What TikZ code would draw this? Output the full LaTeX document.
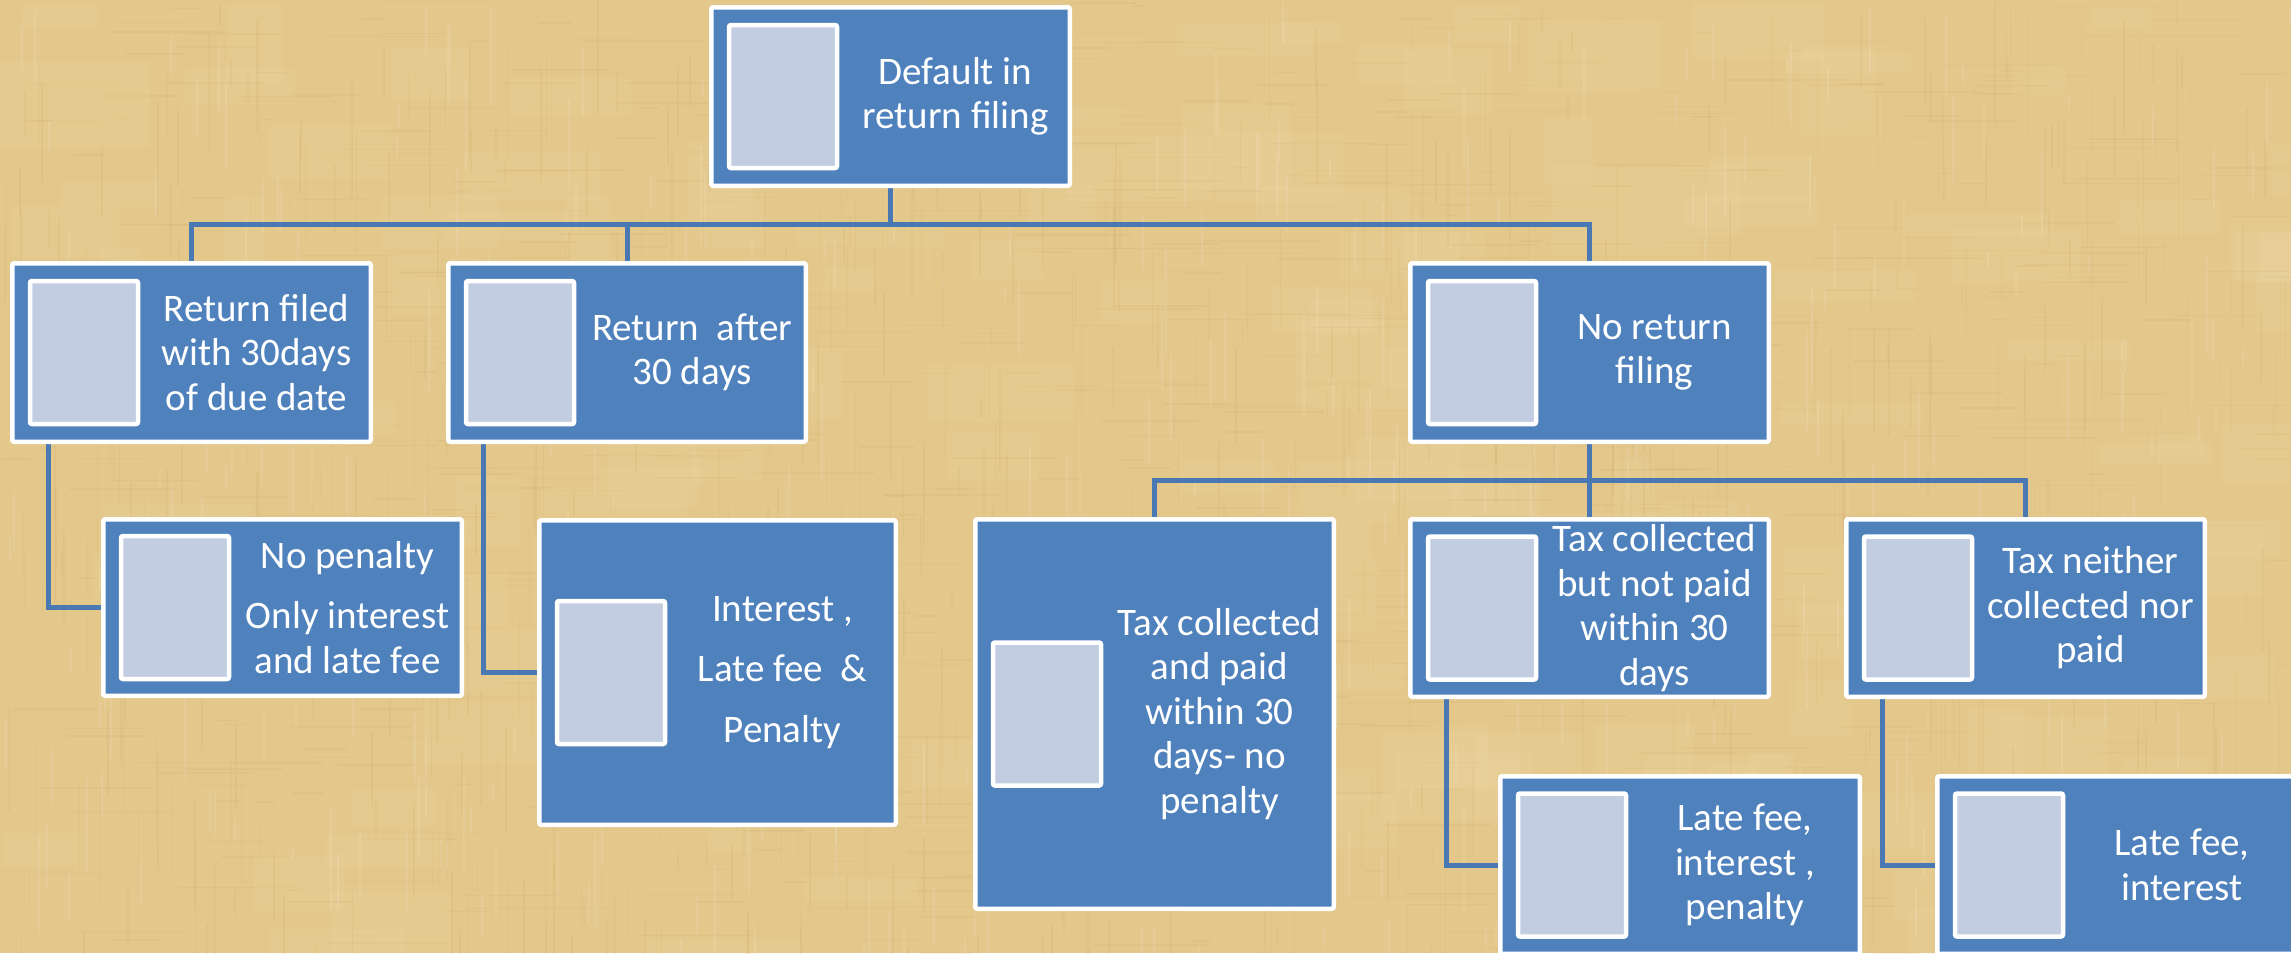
\documentclass[tikz,border=0pt]{standalone}
\usepackage{fontspec}
\setmainfont{Carlito}

\definecolor{paper}{HTML}{E3C78B}
\definecolor{paperlight}{HTML}{F2DFAE}
\definecolor{paperdark}{HTML}{C9A865}
\definecolor{boxblue}{HTML}{4F81BD}
\definecolor{linkblue}{HTML}{4A78B2}
\definecolor{picfill}{HTML}{C2CDE1}

\pgfdeclarelayer{paperlayer}
\pgfdeclarelayer{linklayer}
\pgfsetlayers{paperlayer,linklayer,main}

\tikzset{
  card/.style={draw=white, line width=4.5pt, fill=boxblue, rounded corners=2pt,
               inner sep=0pt},
  slot/.style={draw=white, line width=4.5pt, fill=picfill, rounded corners=2pt,
               minimum width=108pt, minimum height=143pt, inner sep=0pt},
  caption/.style={text=white, align=center, inner sep=0pt,
                  font=\fontsize{39}{44.5}\selectfont},
  link/.style={draw=linkblue, line width=5pt},
}

% \card{name}{left}{top}{right}{bottom}{text}: blue box with a picture slot and its text
\newcommand\card[6]{%
  \node[card, minimum width={#4-#2-4.5}, minimum height={#5-#3-4.5}]
    (#1) at ({(#2+#4)/2},{(#3+#5)/2}) {};
  \node[slot] (#1-pic) at ({#2+74},{(#3+#5)/2}) {};
  \node[caption] (#1-txt) at ({(#2+130+#4)/2},{(#3+#5)/2}) {#6};
}

\begin{document}
\begin{tikzpicture}[x=1pt, y=-1pt]
  \clip (0,0) rectangle (2291,953);
  % papyrus background: base tone, soft light patches, fine fibres
  \begin{pgfonlayer}{paperlayer}
  \fill[paper] (0,0) rectangle (2291,953);
  \pgfmathsetseed{11}
  \foreach \i in {1,...,160} {
    \pgfmathsetmacro\xx{rnd*2291}
    \pgfmathsetmacro\yy{rnd*953}
    \pgfmathsetmacro\ww{40+rnd*120}
    \pgfmathsetmacro\hh{20+rnd*70}
    \fill[paperlight, opacity=0.14] (\xx,\yy) rectangle ++(\ww,\hh);
  }
  \foreach \i in {1,...,700} {
    \pgfmathsetmacro\xx{rnd*2291}
    \pgfmathsetmacro\yy{rnd*953}
    \pgfmathsetmacro\ll{15+rnd*110}
    \fill[paperdark, opacity=0.15] (\xx,\yy) rectangle ++(1.5,\ll);
  }
  \foreach \i in {1,...,700} {
    \pgfmathsetmacro\xx{rnd*2291}
    \pgfmathsetmacro\yy{rnd*953}
    \pgfmathsetmacro\ll{15+rnd*110}
    \fill[paperdark, opacity=0.13] (\xx,\yy) rectangle ++(\ll,1.5);
  }
  \foreach \i in {1,...,400} {
    \pgfmathsetmacro\xx{rnd*2291}
    \pgfmathsetmacro\yy{rnd*953}
    \pgfmathsetmacro\ll{15+rnd*90}
    \fill[white, opacity=0.10] (\xx,\yy) rectangle ++(2,\ll);
  }
  \end{pgfonlayer}

  % boxes
  \card{top}{709}{5}{1072}{188}{Default in\\return filing}
  \card{A}{10}{261}{373}{444}{Return filed\\with 30days\\of due date}
  \card{B}{446}{261}{808}{444}{Return\ \ after\\30 days}
  \card{C}{1408}{261}{1771}{444}{No return\\filing}
  \card{A1}{101}{517}{464}{698}{No penalty\\[16pt]Only interest\\and late fee}
  \card{B1}{537}{518}{898}{827}{Interest ,\\[16pt]Late fee\ \ \&\\[16pt]Penalty}
  \card{C1}{973}{517}{1336}{911}{Tax collected\\and paid\\within 30\\days- no\\penalty}
  \card{C2}{1408}{517}{1771}{699}{Tax collected\\but not paid\\within 30\\days}
  \card{C3}{1844}{517}{2207}{699}{Tax neither\\collected nor\\paid}
  \card{C2a}{1498}{774}{1862}{956}{Late fee,\\interest ,\\penalty}
  \card{C3a}{1935}{774}{2299}{956}{Late fee,\\interest}

  % connectors, drawn beneath the boxes
  \begin{pgfonlayer}{linklayer}
  \draw[link] (top.south) -- ++(0,36) -| (A.north);
  \draw[link] (top.south) -- ++(0,36) -| (B.north);
  \draw[link] (top.south) -- ++(0,36) -| (C.north);
  \draw[link] ([xshift=38pt]A.south west) |- (A1.west);
  \draw[link] ([xshift=37pt]B.south west) |- (B1.west);
  \draw[link] (C.south) -- ++(0,36) -| (C1.north);
  \draw[link] (C.south) -- ++(0,36) -| (C2.north);
  \draw[link] (C.south) -- ++(0,36) -| (C3.north);
  \draw[link] ([xshift=38pt]C2.south west) |- (C2a.west);
  \draw[link] ([xshift=38pt]C3.south west) |- (C3a.west);
  \end{pgfonlayer}
\end{tikzpicture}
\end{document}
